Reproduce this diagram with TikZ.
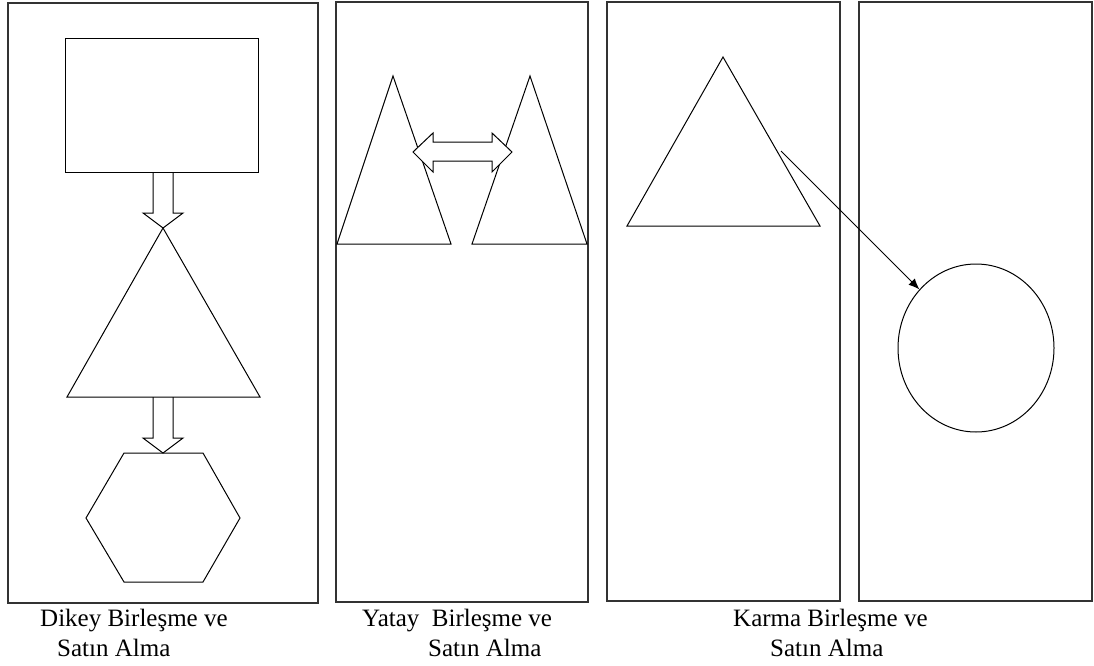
\documentclass[tikz,border=0pt]{standalone}
\usepackage{fontspec}
\setmainfont{Liberation Serif}
\usetikzlibrary{positioning,calc,arrows.meta,shapes.geometric}

\tikzset{
  panel/.style={draw=black!80,line width=1.5pt},
  figure/.style={draw,line width=1pt,line join=miter},
  blockarrow/.style={draw,fill=white,line width=1pt,line join=miter},
  caption/.style={font=\fontsize{25}{30}\selectfont,inner sep=0pt,anchor=base west}
}

\begin{document}
\begin{tikzpicture}[x=1pt,y=-1pt]
\useasboundingbox (0,0) rectangle (1094,666);

% panels
\draw[panel] (8,3) rectangle (318,603);
\draw[panel] (336,2) rectangle (588,602);
\draw[panel] (607,2) rectangle (840,601);
\draw[panel] (859,2) rectangle (1092,601);

% dikey
\draw[figure] (65,39) rectangle (258,172);
\coordinate (rectbot) at (163,172);
\coordinate (triatop) at (163,228);
\draw[figure] (triatop)--(260,397)--(67,397)--cycle;
\coordinate (triabot) at (163,397);
\coordinate (hextop) at (163,453);
\draw[figure] (124,453)--(203,453)--(240,518)--(203,582)--(124,582)--(86,518)--cycle;
\foreach \a/\b in {rectbot/triatop,triabot/hextop}{
  \draw[figure] ($(\a)+(-10,0)$)--($(\b)+(-10,-15)$)--($(\b)+(-20,-15)$)--(\b)
    --($(\b)+(20,-15)$)--($(\b)+(10,-15)$)--($(\a)+(10,0)$);
}

% yatay
\draw[figure] (393,76)--(451,244)--(337,244)--cycle;
\draw[figure] (530,76)--(587,244)--(472,244)--cycle;
\coordinate (lefttip) at (413,152);
\coordinate (righttip) at (512,152);
\draw[blockarrow] (lefttip)--($(lefttip)+(20,-19)$)--($(lefttip)+(20,-10)$)
  --($(righttip)+(-20,-10)$)--($(righttip)+(-20,-19)$)--(righttip)
  --($(righttip)+(-20,20)$)--($(righttip)+(-20,9)$)--($(lefttip)+(20,9)$)
  --($(lefttip)+(20,20)$)--cycle;

% karma
\draw[figure] (723,57)--(820,226)--(627,226)--cycle;
\node[figure,ellipse,minimum width=156pt,minimum height=168pt,inner sep=0pt] (daire) at (976,348) {};
\coordinate (kenar) at (781,151);
\draw[line width=1pt,-{Latex[length=11pt,width=9pt]}] (kenar)--(daire.134);

% captions
\node[caption] (dikey1) at (40,626) {Dikey Birleşme ve};
\node[caption] (dikey2) at (57,656) {Satın Alma};
\node[caption] (yatay1) at (362,626) {Yatay\ \ Birleşme ve};
\node[caption] (yatay2) at (428,656) {Satın Alma};
\node[caption] (karma1) at (733,626) {Karma Birleşme ve};
\node[caption] (karma2) at (770,656) {Satın Alma};
\end{tikzpicture}
\end{document}
